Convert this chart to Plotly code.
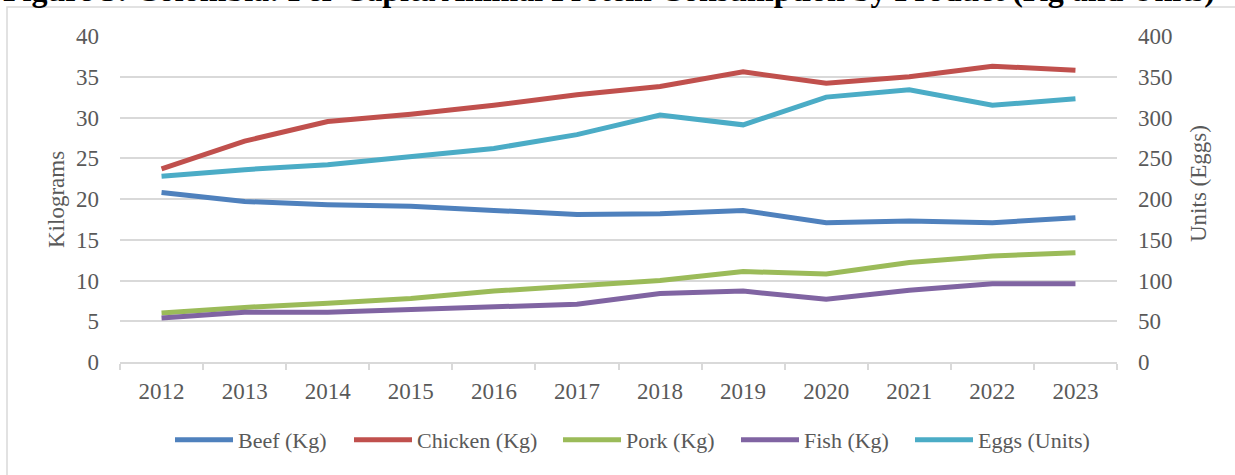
import plotly.graph_objects as go

years = ["2012", "2013", "2014", "2015", "2016", "2017", "2018", "2019", "2020", "2021", "2022", "2023"]
beef = [20.8, 19.7, 19.3, 19.1, 18.6, 18.1, 18.2, 18.6, 17.1, 17.3, 17.1, 17.7]
chicken = [23.7, 27.1, 29.5, 30.4, 31.5, 32.8, 33.8, 35.6, 34.2, 35.0, 36.3, 35.8]
pork = [6.0, 6.7, 7.2, 7.8, 8.7, 9.4, 10.0, 11.1, 10.8, 12.2, 13.0, 13.4]
fish = [5.4, 6.1, 6.1, 6.4, 6.8, 7.1, 8.4, 8.7, 7.7, 8.8, 9.6, 9.6]
eggs = [228, 236, 242, 252, 262, 279, 303, 291, 325, 334, 315, 323]

left_ticks = [0, 5, 10, 15, 20, 25, 30, 35, 40]
right_ticks = [0, 50, 100, 150, 200, 250, 300, 350, 400]

title_text = "Figure 3: Colombia: Per Capita Animal Protein Consumption by Product (Kg and Units)"

W, H = 1235, 475
ML, MR, MT, MB = 120, 118, 36, 113
PW, PH = W - ML - MR, H - MT - MB


def px(x):
    return (x - ML) / PW


def py(y):
    return (H - MB - y) / PH


FONT = "Liberation Serif"
GRAY = "#595959"

series = [
    ("Beef (Kg)", beef, "#4F81BD", "y"),
    ("Chicken (Kg)", chicken, "#C0504D", "y"),
    ("Pork (Kg)", pork, "#9BBB59", "y"),
    ("Fish (Kg)", fish, "#8064A2", "y"),
    ("Eggs (Units)", eggs, "#4BACC6", "y2"),
]
legend_starts = [177, 356, 565, 743, 917]
legend_names = ["legend", "legend2", "legend3", "legend4", "legend5"]

fig = go.Figure()
for (name, vals, color, ax), lg in zip(series, legend_names):
    fig.add_trace(go.Scatter(
        x=years, y=vals, name=name, mode="lines", yaxis=ax, legend=lg,
        line=dict(color=color, width=5),
    ))

legend_layout = {}
for lg, xs in zip(legend_names, legend_starts):
    legend_layout[lg] = dict(
        orientation="h", x=px(xs - 7), xanchor="left", y=py(440), yanchor="middle",
        font=dict(family=FONT, size=22, color=GRAY),
        itemwidth=58, bgcolor="rgba(0,0,0,0)",
    )

fig.update_layout(
    width=W, height=H,
    margin=dict(l=ML, r=MR, t=MT, b=MB, autoexpand=False),
    paper_bgcolor="white", plot_bgcolor="white",
    font=dict(family=FONT, size=23, color=GRAY),
    showlegend=True,
    xaxis=dict(
        type="category", range=[-0.5, 11.5], automargin=False,
        showgrid=False, showline=True, linecolor="#d9d9d9", linewidth=1.5,
        ticks="outside", tickson="boundaries", ticklen=6, tickcolor="#d9d9d9", tickwidth=1.5,
        ticklabelstandoff=8,
        tickfont=dict(family=FONT, size=23, color=GRAY), zeroline=False,
    ),
    yaxis=dict(
        range=[0, 40], tickvals=left_ticks, automargin=False,
        showgrid=True, gridcolor="#d9d9d9", gridwidth=1.5,
        zeroline=False, showline=False, ticks="", ticklabelstandoff=20,
        tickfont=dict(family=FONT, size=23, color=GRAY),
    ),
    yaxis2=dict(
        range=[0, 400], tickvals=right_ticks, overlaying="y", side="right", automargin=False,
        showgrid=False, zeroline=False, showline=False, ticks="", ticklabelstandoff=20,
        tickfont=dict(family=FONT, size=23, color=GRAY),
    ),
    shapes=[
        dict(type="rect", xref="paper", yref="paper",
             x0=px(7), x1=px(1245), y0=py(485), y1=py(7),
             line=dict(color="#d9d9d9", width=1.5), fillcolor="rgba(0,0,0,0)", layer="below"),
    ],
    annotations=[
        dict(text="Kilograms", xref="paper", yref="paper", x=px(56), y=py(200),
             xanchor="center", yanchor="middle", textangle=-90, showarrow=False,
             font=dict(family=FONT, size=23, color=GRAY)),
        dict(text="Units (Eggs)", xref="paper", yref="paper", x=px(1198), y=py(184),
             xanchor="center", yanchor="middle", textangle=-90, showarrow=False,
             font=dict(family=FONT, size=23, color=GRAY)),
        dict(text="<b>" + title_text + "</b>", xref="paper", yref="paper", x=px(609), y=py(10),
             xanchor="center", yanchor="bottom", showarrow=False,
             font=dict(family=FONT, size=32, color="black")),
    ],
    **legend_layout,
)

fig.write_html("out.html", config={"displayModeBar": False},
               post_script="document.body.style.margin='0';")
